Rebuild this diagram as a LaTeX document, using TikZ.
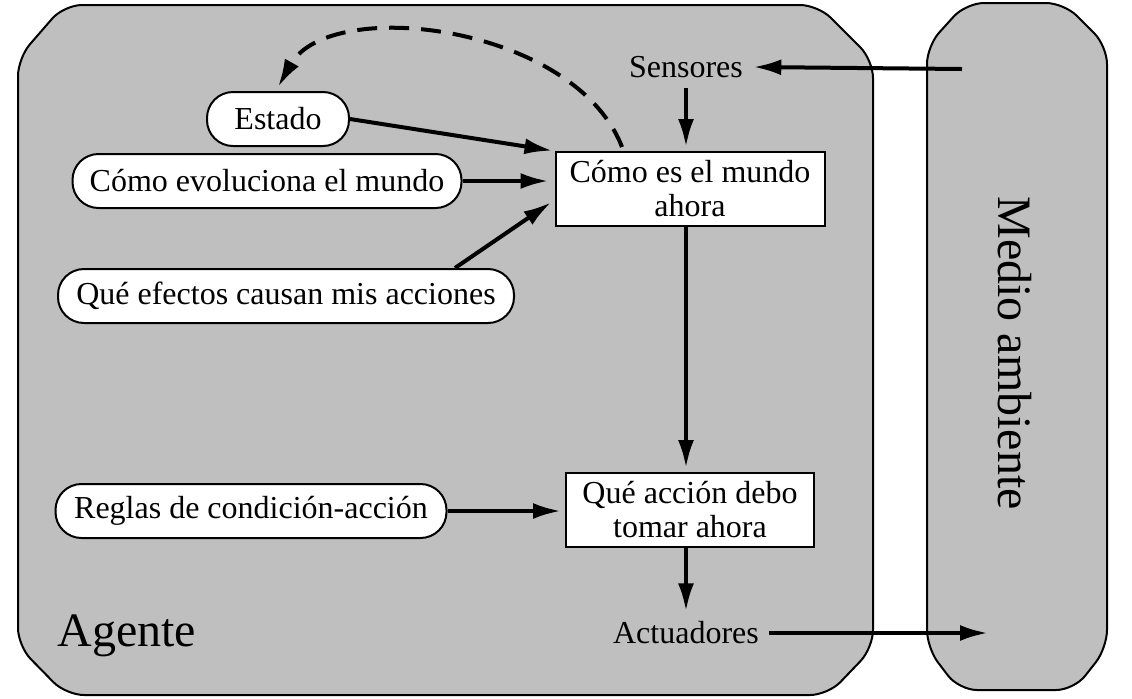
\documentclass[tikz,border=0pt]{standalone}
\usepackage{fontspec}
\setmainfont{Liberation Serif}
\usetikzlibrary{arrows.meta,calc}
\begin{document}
\begin{tikzpicture}[x=0.5pt,y=-0.5pt,
  font=\fontsize{16}{17}\selectfont,
  frame/.style={draw=black,line width=1pt,fill=black!25,rounded corners=9pt},
  pill/.style={draw=black,line width=1pt,fill=white,rounded corners=13pt,minimum height=27pt,inner sep=0pt},
  databox/.style={draw=black,line width=1pt,fill=white,align=center,minimum height=37pt,inner sep=0pt},
  plain/.style={inner sep=5pt},
  flow/.style={line width=2pt,-{Latex[length=14pt,width=8pt]}},
  big/.style={font=\fontsize{24}{26}\selectfont}]
\useasboundingbox (0,0) rectangle (1132,698);
% frames
\draw[frame] (18,58) -- (64,5) -- (818,5) -- (873,60) -- (873,648) -- (828,695) -- (66,695) -- (18,646) -- cycle;
\draw[frame] (927,46) -- (966,3) -- (1064,3) -- (1107,46) -- (1107,648) -- (1074,690) -- (959,690) -- (927,648) -- cycle;
% nodes
\node[plain] (sens) at (686,67) {Sensores};
\node[plain] (act) at (686,633) {Actuadores};
\node[pill,minimum width=71pt] (estado) at (278,119) {Estado};
\node[pill,minimum width=194.5pt] (evol) at (267,181) {Cómo evoluciona el mundo};
\node[pill,minimum width=228pt] (efect) at (286,296) {Qué efectos causan mis acciones};
\node[pill,minimum width=195.5pt] (reglas) at (251,511) {Reglas de condición-acción};
\node[databox,minimum width=134.5pt] (mundo) at (690,189) {Cómo es el mundo\\ahora};
\node[databox,minimum width=124pt] (accion) at (690,510) {Qué acción debo\\tomar ahora};
\node[big,anchor=base west,inner sep=0pt] (agente) at (57,646) {Agente};
\node[big,rotate=-90] (medio) at (1015,353) {Medio ambiente};
\coordinate (envin) at (962,69);
\coordinate (envout) at (988,633);
% connectors
\draw[flow] (envin) -- (sens.east);
\draw[flow] (sens.south) -- ($(sens.south |- mundo.north)+(0,-4)$);
\draw[flow,shorten >=1pt] (estado.east) -- (mundo.north west);
\draw[flow,shorten >=3pt] (evol.east) -- (evol.east -| mundo.west);
\draw[flow,shorten >=2pt] ($(efect.north)+(169,0)$) -- ($(mundo.west)+(0,11)$);
\draw[flow,dashed,dash pattern=on 10pt off 6pt] ($(mundo.north)+(-68,-4)$) .. controls (575,25) and (330,-5) .. ($(estado.north)+(0,-4)$);
\draw[flow,shorten >=2pt] (mundo.south -| sens.south) -- (accion.north -| sens.south);
\draw[flow,shorten >=2pt] (reglas.east) -- (reglas.east -| accion.west);
\draw[flow] (accion.south -| act.north) -- (act.north);
\draw[flow] (act.east) -- (envout);
\end{tikzpicture}
\end{document}
